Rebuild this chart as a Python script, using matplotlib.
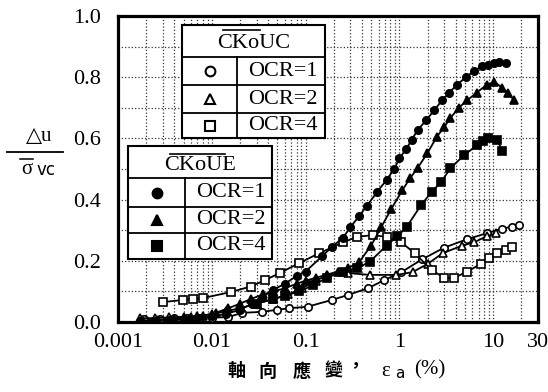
import matplotlib
matplotlib.use("Agg")
import matplotlib.pyplot as plt
from matplotlib.patches import Rectangle
from matplotlib.lines import Line2D
from matplotlib.ticker import FixedLocator, MultipleLocator, NullFormatter

plt.rcParams['font.family'] = ['Liberation Serif', 'DejaVu Sans']

# CKoUC (open markers)
uc1_x = [0.0019, 0.0028, 0.004, 0.0055, 0.0075, 0.01, 0.015, 0.021, 0.034, 0.05, 0.067,
         0.105, 0.19, 0.28, 0.46, 0.69, 1.05, 1.75, 3.0, 5.2, 8.5, 12.5, 16, 19]
uc1_y = [0.01, 0.01, 0.012, 0.012, 0.014, 0.014, 0.016, 0.03, 0.033, 0.04, 0.045,
         0.05, 0.072, 0.088, 0.11, 0.137, 0.163, 0.205, 0.243, 0.27, 0.29, 0.305, 0.312, 0.317]
uc2_x = [0.0017, 0.0025, 0.0035, 0.005, 0.007, 0.01, 0.014, 0.02, 0.03, 0.045, 0.065, 0.091,
         0.13, 0.17, 0.28, 0.48, 0.93, 1.38, 2.0, 2.9, 4.7, 6.2, 8.5, 10.8]
uc2_y = [0.012, 0.013, 0.015, 0.017, 0.02, 0.025, 0.035, 0.045, 0.06, 0.075, 0.09, 0.11,
         0.135, 0.154, 0.16, 0.154, 0.154, 0.163, 0.19, 0.225, 0.25, 0.26, 0.28, 0.29]
uc4_x = [0.003, 0.0049, 0.0063, 0.008, 0.016, 0.026, 0.037, 0.053, 0.086, 0.14, 0.25, 0.35,
         0.52, 0.73, 1.05, 1.45, 2.2, 3.0, 3.8, 5.3, 7.4, 9, 10.9, 13.7, 15.8]
uc4_y = [0.065, 0.072, 0.075, 0.078, 0.098, 0.116, 0.137, 0.16, 0.193, 0.225, 0.26, 0.278,
         0.284, 0.278, 0.26, 0.225, 0.17, 0.144, 0.144, 0.165, 0.19, 0.21, 0.225, 0.235, 0.245]

# CKoUE (filled markers)
ue1_x = [0.0017, 0.0025, 0.0035, 0.005, 0.007, 0.01, 0.014, 0.02, 0.027, 0.034, 0.045, 0.06,
         0.08, 0.1, 0.15, 0.19, 0.25, 0.3, 0.37, 0.45, 0.58, 0.73, 0.88, 1.0, 1.18, 1.35, 1.56,
         1.94, 2.36, 2.86, 3.4, 4.1, 5.1, 6.2, 7.5, 8.9, 10.2, 11.4, 13.8]
ue1_y = [0.003, 0.004, 0.006, 0.009, 0.013, 0.018, 0.026, 0.04, 0.06, 0.08, 0.105, 0.125,
         0.15, 0.165, 0.215, 0.245, 0.275, 0.31, 0.345, 0.38, 0.425, 0.465, 0.5, 0.535, 0.565,
         0.595, 0.627, 0.66, 0.693, 0.725, 0.75, 0.775, 0.8, 0.82, 0.835, 0.84, 0.848, 0.85, 0.845]
ue2_x = [0.0018, 0.0027, 0.004, 0.006, 0.008, 0.011, 0.015, 0.02, 0.026, 0.035, 0.045, 0.06,
         0.08, 0.1, 0.13, 0.17, 0.22, 0.28, 0.37, 0.5, 0.64, 0.82, 1.07, 1.3, 1.56, 1.99, 2.5,
         3.0, 3.5, 4.3, 5.3, 6.7, 8.5, 10.3, 12.5, 14.3, 16.6]
ue2_y = [0.005, 0.007, 0.01, 0.015, 0.02, 0.03, 0.045, 0.06, 0.075, 0.09, 0.1, 0.11, 0.125,
         0.135, 0.145, 0.155, 0.165, 0.175, 0.195, 0.25, 0.31, 0.37, 0.43, 0.47, 0.503, 0.552,
         0.605, 0.637, 0.667, 0.7, 0.725, 0.75, 0.775, 0.785, 0.765, 0.75, 0.725]
ue4_x = [0.03, 0.045, 0.06, 0.085, 0.12, 0.17, 0.25, 0.35, 0.48, 0.73, 0.95, 1.19, 1.7, 2.2,
         2.8, 3.5, 4.9, 6.7, 7.7, 8.9, 11, 12.5]
ue4_y = [0.06, 0.075, 0.085, 0.1, 0.12, 0.145, 0.165, 0.176, 0.196, 0.25, 0.28, 0.31, 0.382,
         0.425, 0.458, 0.503, 0.545, 0.578, 0.59, 0.6, 0.595, 0.56]

x_ticks = [0.001, 0.01, 0.1, 1, 10, 30]
x_tick_labels = ['0.001', '0.01', '0.1', '1', '10', '30']
y_ticks = [0.0, 0.2, 0.4, 0.6, 0.8, 1.0]
ocr_labels = ['OCR=1', 'OCR=2', 'OCR=4']
markers = ['o', '^', 's']

W, H = 548, 392
fig = plt.figure(figsize=(W / 100, H / 100), dpi=100)
ax = fig.add_axes([118 / W, 1 - 322 / H, 420 / W, 306 / H])


def P(x, y):
  return (x / W, 1 - y / H)


series = [(uc1_x, uc1_y, 'o', 'white'), (uc2_x, uc2_y, '^', 'white'), (uc4_x, uc4_y, 's', 'white'),
          (ue1_x, ue1_y, 'o', 'black'), (ue2_x, ue2_y, '^', 'black'), (ue4_x, ue4_y, 's', 'black')]
for xs, ys, m, fc in series:
  ax.plot(xs, ys, color='black', lw=1.3, marker=m, ms=5.3, mfc=fc, mec='black', mew=1.2, zorder=3)

ax.set_xscale('log')
ax.set_xlim(0.001, 30)
ax.set_ylim(0, 1.0)
ax.set_xticks(x_ticks)
ax.set_xticklabels(x_tick_labels)
ax.xaxis.set_minor_locator(FixedLocator([m * 10.0 ** e for e in range(-3, 2) for m in range(2, 10)]))
ax.xaxis.set_minor_formatter(NullFormatter())
ax.set_yticks(y_ticks)
ax.set_yticklabels(['%.1f' % v for v in y_ticks])
ax.yaxis.set_minor_locator(MultipleLocator(0.1))
ax.tick_params(which='both', length=0, labelsize=16)
ax.tick_params(axis='x', pad=8)
ax.tick_params(axis='y', pad=12)
ax.grid(True, which='both', ls=':', lw=0.9, color='#333333')
for s in ax.spines.values():
  s.set_linewidth(2.3)


def legend_box(left, top, right, bottom, head_y, rows, col_x, title, bar_x, bar_y, fill):
  x0, y0 = P(left, bottom)
  x1, y1 = P(right, top)
  ax.add_patch(Rectangle((x0, y0), x1 - x0, y1 - y0, transform=fig.transFigure, fc='white',
                         ec='black', lw=1.5, zorder=10, clip_on=False))
  for yy in [head_y] + rows:
    ax.add_line(Line2D([x0, x1], [P(0, yy)[1]] * 2, transform=fig.transFigure, color='black',
                       lw=1.3, zorder=11, clip_on=False))
  ax.add_line(Line2D([P(col_x, 0)[0]] * 2, [P(0, head_y)[1], y0], transform=fig.transFigure,
                     color='black', lw=1.3, zorder=11, clip_on=False))
  ax.text(*P((left + right) / 2, (top + head_y) / 2 + 3), title, transform=fig.transFigure,
          ha='center', va='center', fontsize=16, zorder=12)
  ax.add_line(Line2D([P(bar_x[0], 0)[0], P(bar_x[1], 0)[0]], [P(0, bar_y)[1]] * 2,
                     transform=fig.transFigure, color='black', lw=1.2, zorder=12, clip_on=False))
  edges = [head_y] + rows + [bottom]
  for i in range(3):
    cy = (edges[i] + edges[i + 1]) / 2
    ax.plot(*P((left + col_x) / 2, cy), transform=fig.transFigure, marker=markers[i], ms=7,
            mfc=fill, mec='black', mew=1.5, ls='none', zorder=12, clip_on=False)
    ax.text(*P((col_x + right) / 2 + 2, cy), ocr_labels[i], transform=fig.transFigure,
            ha='center', va='center', fontsize=16, zorder=12)


legend_box(182, 25, 325, 138, 57, [85, 113], 237, 'CKoUC', (223, 260), 30, 'white')
legend_box(128, 146, 272, 259, 178, [207, 233], 185, 'CKoUE', (170, 225), 154, 'black')

# y label: Δu over σvc
fig.text(*P(39, 137), '△u', ha='center', va='center', fontsize=15)
fig.add_artist(Line2D([P(7, 0)[0], P(63, 0)[0]], [P(0, 152)[1]] * 2, color='black', lw=1.3))
fig.text(*P(27, 169), 'σ', ha='center', va='center', fontsize=15)
fig.add_artist(Line2D([P(20, 0)[0], P(33, 0)[0]], [P(0, 159)[1]] * 2, color='black', lw=1.1))
fig.text(*P(46, 170), 'vc', ha='center', va='center', fontsize=12, family='DejaVu Sans')

# x label
cjk = ['Noto Sans CJK TC', 'DejaVu Sans']
for ch, cx in zip('軸向應變', [236, 267, 302, 333]):
  fig.text(*P(cx, 371), ch, ha='center', va='center', fontsize=13, family=cjk, weight='bold')
fig.text(*P(355, 366), '，', ha='center', va='center', fontsize=13, family=cjk, weight='bold')
fig.text(*P(386, 371), 'ε', ha='center', va='center', fontsize=15)
fig.text(*P(400, 373), 'a', ha='center', va='center', fontsize=11, family='DejaVu Sans')
fig.text(*P(430, 370), '(%)', ha='center', va='center', fontsize=15)

fig.savefig('out.png', dpi=100)
